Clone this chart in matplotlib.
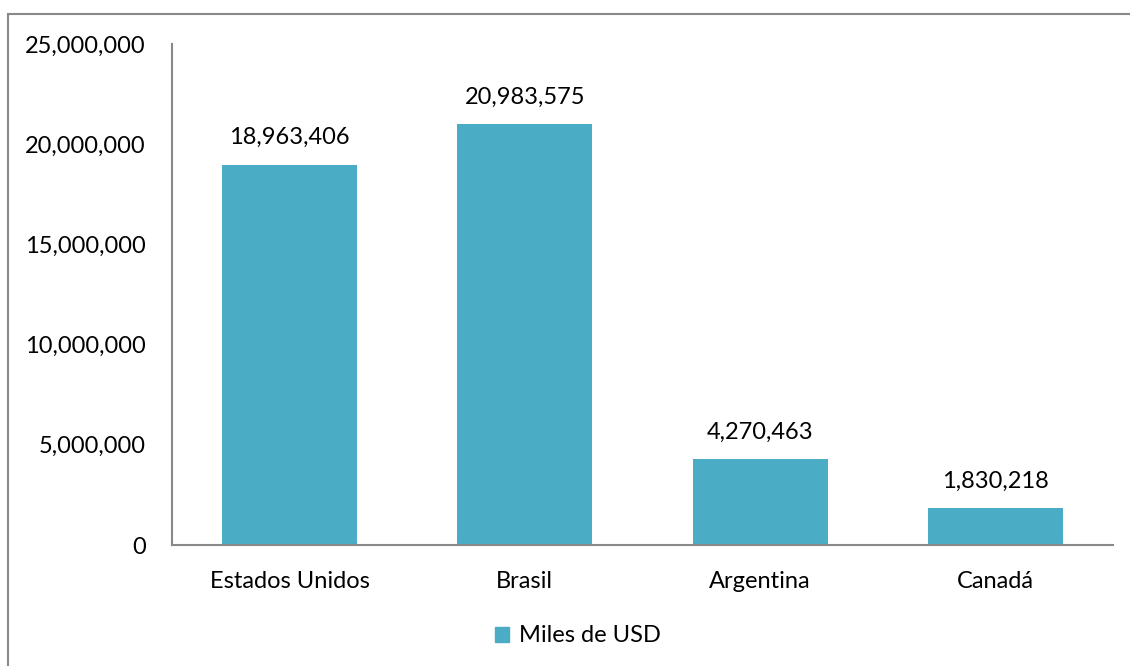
import matplotlib.pyplot as plt
from matplotlib.lines import Line2D
from matplotlib.patches import Patch
from matplotlib.ticker import FuncFormatter

# Exportaciones por destino (miles de USD)
paises = ['Estados Unidos', 'Brasil', 'Argentina', 'Canadá']
valores = [18963406, 20983575, 4270463, 1830218]
y_ticks = [0, 5000000, 10000000, 15000000, 20000000, 25000000]

plt.rcParams['font.family'] = ['Lato', 'DejaVu Sans']
color_barra = '#4BACC6'
gris = '#898989'
fs = 17

fig = plt.figure(figsize=(11.3, 6.66), dpi=100)
ax = fig.add_axes([172 / 1130, 1 - 545 / 666, 941 / 1130, 501 / 666])

x = range(len(paises))
bars = ax.bar(x, valores, width=0.574, color=color_barra)

for b, v in zip(bars, valores):
    ax.annotate(f'{v:,}', (b.get_x() + b.get_width() / 2, v),
                xytext=(0, 12), textcoords='offset points',
                ha='center', va='bottom', fontsize=fs)

ax.set_xlim(-0.5, len(paises) - 0.5)
ax.set_ylim(0, 25000000)
ax.set_yticks(y_ticks)
ax.yaxis.set_major_formatter(FuncFormatter(lambda v, p: f'{int(v):,}'))
ax.set_xticks(list(x))
ax.set_xticklabels(paises)
ax.tick_params(axis='both', length=0, labelsize=fs)
ax.tick_params(axis='y', pad=19)
ax.tick_params(axis='x', pad=19)

for s in ['top', 'right']:
    ax.spines[s].set_visible(False)
for s in ['left', 'bottom']:
    ax.spines[s].set_color(gris)
    ax.spines[s].set_linewidth(1.5)

# marco exterior del grafico
fig.add_artist(Line2D([8 / 1130, 8 / 1130], [0, 1 - 14 / 666], color=gris, lw=1.5))
fig.add_artist(Line2D([8 / 1130, 1], [1 - 14 / 666, 1 - 14 / 666], color=gris, lw=1.5))

fig.legend(handles=[Patch(color=color_barra, label='Miles de USD')],
           loc='center', bbox_to_anchor=(578 / 1130, 1 - 636 / 666),
           frameon=False, fontsize=fs, handlelength=0.6, handleheight=0.6,
           handletextpad=0.4)

fig.savefig('out.png', dpi=100)
